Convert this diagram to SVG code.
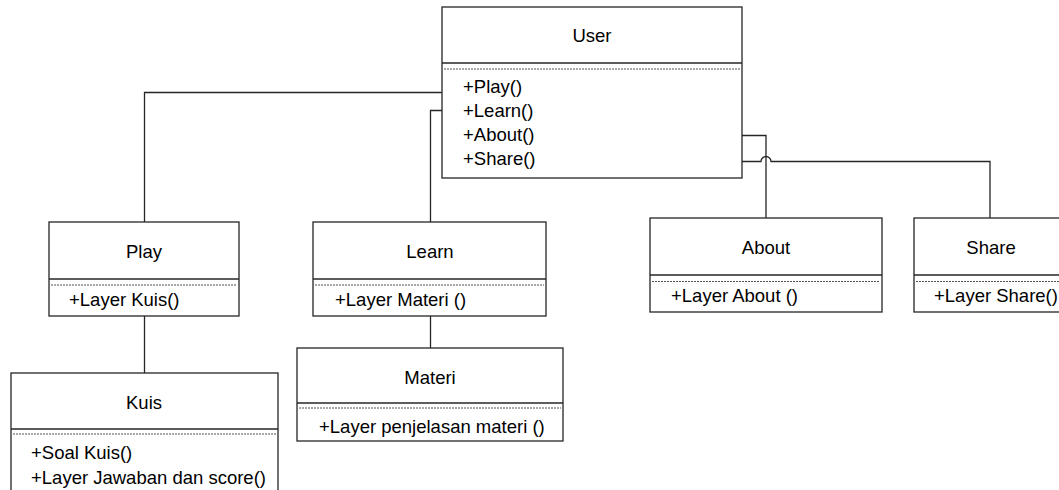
<svg xmlns="http://www.w3.org/2000/svg" width="1059" height="490" viewBox="0 0 1059 490">
<style>
.box{fill:#fff;stroke:#262626;stroke-width:1.3}
.div{stroke:#262626;stroke-width:1.3}
.dash{stroke:#262626;stroke-width:0.8;stroke-dasharray:2 1}
.conn{fill:none;stroke:#262626;stroke-width:1.3}
text{font-family:"Liberation Sans",Arial,sans-serif;font-size:18.5px;fill:#000}
.t{text-anchor:middle}
</style>
<rect width="1059" height="490" fill="#fff"/>
<g id="connectors">
<path class="conn" d="M442,92.5 H144.5 V222"/>
<path class="conn" d="M446,110.5 H430.5 V222"/>
<path class="conn" d="M738,135.5 H766 V218"/>
<path class="conn" d="M738,161.5 H761 A5,5 0 0 1 771,161.5 H990 V218"/>
<path class="conn" d="M144.5,316 V373"/>
<path class="conn" d="M430.5,316 V348"/>
</g>
<g id="user">
<rect class="box" x="442" y="7" width="300" height="171"/>
<line class="div" x1="442" y1="63" x2="742" y2="63"/>
<line class="dash" x1="444" y1="69" x2="740" y2="69"/>
<text class="t" x="592" y="42">User</text>
<text x="463" y="93">+Play()</text>
<text x="463" y="117">+Learn()</text>
<text x="463" y="141">+About()</text>
<text x="463" y="165">+Share()</text>
</g>
<g id="play">
<rect class="box" x="49" y="222" width="190" height="94"/>
<line class="div" x1="49" y1="279" x2="239" y2="279"/>
<line class="dash" x1="51" y1="285" x2="237" y2="285"/>
<text class="t" x="144" y="258">Play</text>
<text x="69" y="306">+Layer Kuis()</text>
</g>
<g id="kuis">
<rect class="box" x="11" y="373" width="267" height="130"/>
<line class="div" x1="11" y1="429" x2="278" y2="429"/>
<line class="dash" x1="13" y1="434" x2="276" y2="434"/>
<text class="t" x="144" y="409">Kuis</text>
<text x="31" y="459">+Soal Kuis()</text>
<text x="31" y="484">+Layer Jawaban dan score()</text>
</g>
<g id="learn">
<rect class="box" x="313" y="222" width="233" height="94"/>
<line class="div" x1="313" y1="279" x2="546" y2="279"/>
<line class="dash" x1="315" y1="285" x2="544" y2="285"/>
<text class="t" x="430" y="258">Learn</text>
<text x="335" y="306">+Layer Materi ()</text>
</g>
<g id="materi">
<rect class="box" x="297" y="348" width="266" height="93"/>
<line class="div" x1="297" y1="403" x2="563" y2="403"/>
<line class="dash" x1="299" y1="408" x2="561" y2="408"/>
<text class="t" x="430" y="384">Materi</text>
<text x="319" y="433">+Layer penjelasan materi ()</text>
</g>
<g id="about">
<rect class="box" x="650" y="218" width="232" height="94"/>
<line class="div" x1="650" y1="275" x2="882" y2="275"/>
<line class="dash" x1="652" y1="281.5" x2="880" y2="281.5"/>
<text class="t" x="766" y="254">About</text>
<text x="671" y="302">+Layer About ()</text>
</g>
<g id="share">
<rect class="box" x="914" y="218" width="160" height="94"/>
<line class="div" x1="914" y1="275" x2="1074" y2="275"/>
<line class="dash" x1="916" y1="281.5" x2="1072" y2="281.5"/>
<text class="t" x="991" y="254">Share</text>
<text x="934" y="302">+Layer Share()</text>
</g>
</svg>
